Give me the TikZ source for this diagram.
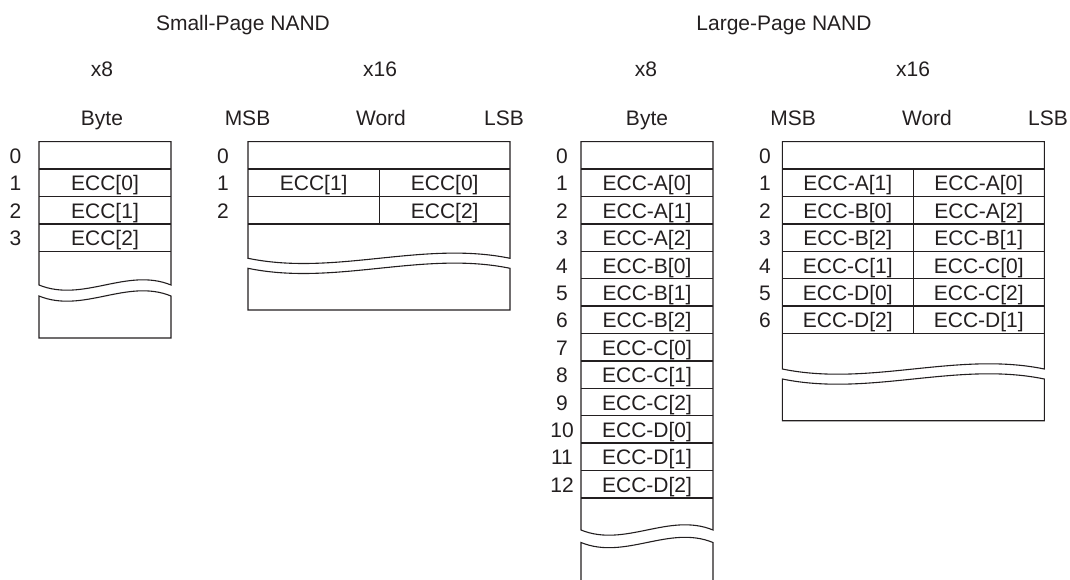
\documentclass[tikz,border=0pt]{standalone}
\usepackage{fontspec}
\setmainfont{Liberation Sans}
\definecolor{ink}{HTML}{231F20}
\tikzset{
  txt/.style={inner sep=0pt, anchor=base, text=ink, font=\fontsize{21}{24}\selectfont},
  boxline/.style={draw=ink, line width=1.1pt, line join=miter},
  rowline/.style={draw=ink, line width=1.5pt},
}
% upper part of a broken box: left, right, top, wave y
\newcommand{\upperpart}[4]{%
  \draw[boxline] (#1,#4) -- (#1,#3) -- (#2,#3) -- (#2,#4)
    .. controls ({#1+2*(#2-#1)/3},{#4-18}) and ({#1+(#2-#1)/3},{#4+18}) .. (#1,#4) -- cycle;}
% lower part of a broken box: left, right, wave y, bottom
\newcommand{\lowerpart}[4]{%
  \draw[boxline] (#1,#3) .. controls ({#1+(#2-#1)/3},{#3+18}) and ({#1+2*(#2-#1)/3},{#3-18}) .. (#2,#3)
    -- (#2,#4) -- (#1,#4) -- cycle;}
\begin{document}
\begin{tikzpicture}[x=1pt,y=-1pt]
\useasboundingbox (0,0) rectangle (1070,580);

% ---------- headers ----------
\node[txt] (hsmall) at (243,31) {Small-Page NAND};
\node[txt] (hlarge) at (784,31) {Large-Page NAND};
\node[txt] (ws8)  at (102,76.5) {x8};
\node[txt] (ws16) at (380,76.5) {x16};
\node[txt] (wl8)  at (646,76.5) {x8};
\node[txt] (wl16) at (913,76.5) {x16};
\node[txt] (bs8)  at (102,126) {Byte};
\node[txt] (msbs) at (247.5,126) {MSB};
\node[txt] (wrds) at (381,126) {Word};
\node[txt] (lsbs) at (504,126) {LSB};
\node[txt] (bl8)  at (647,126) {Byte};
\node[txt] (msbl) at (793,126) {MSB};
\node[txt] (wrdl) at (927,126) {Word};
\node[txt] (lsbl) at (1048,126) {LSB};

% ---------- Small-Page x8 ----------
\upperpart{39}{171}{141.7}{285}
\lowerpart{39}{171}{296}{338}
\foreach \k in {1,...,4}
  \draw[rowline] (39,{141.7+\k*27.4}) -- (171,{141.7+\k*27.4});
\foreach \k in {0,...,3}
  \node[txt] (sa\k) at (15.5,{141.7+\k*27.4+21.8}) {\k};
\foreach \k/\t in {1/ECC[0],2/ECC[1],3/ECC[2]}
  \node[txt] (sac\k) at (105,{141.7+\k*27.4+21.8}) {\t};

% ---------- Small-Page x16 ----------
\upperpart{248}{510}{141.7}{258.3}
\lowerpart{248}{510}{268.3}{310}
\foreach \k in {1,...,3}
  \draw[rowline] (248,{141.7+\k*27.4}) -- (510,{141.7+\k*27.4});
\draw[boxline] (379.3,169.1) -- (379.3,223.9);
\foreach \k in {0,...,2}
  \node[txt] (sb\k) at (223,{141.7+\k*27.4+21.8}) {\k};
\node[txt] (sbl1) at (313.7,{141.7+27.4+21.8}) {ECC[1]};
\node[txt] (sbr1) at (444.7,{141.7+27.4+21.8}) {ECC[0]};
\node[txt] (sbr2) at (444.7,{141.7+2*27.4+21.8}) {ECC[2]};

% ---------- Large-Page x8 ----------
\upperpart{581}{713}{141.7}{530}
\draw[boxline] (581,584) -- (581,542.5)
  .. controls ({581+132/3},{542.5+18}) and ({581+2*132/3},{542.5-18}) .. (713,542.5) -- (713,584);
\foreach \k in {1,...,13}
  \draw[rowline] (581,{141.7+\k*27.4}) -- (713,{141.7+\k*27.4});
\foreach \k in {0,...,12}
  \node[txt] (la\k) at (562,{141.7+\k*27.4+21.8}) {\k};
\foreach \k/\t in {1/ECC-A[0],2/ECC-A[1],3/ECC-A[2],4/ECC-B[0],5/ECC-B[1],6/ECC-B[2],
                   7/ECC-C[0],8/ECC-C[1],9/ECC-C[2],10/ECC-D[0],11/ECC-D[1],12/ECC-D[2]}
  \node[txt] (lac\k) at (647,{141.7+\k*27.4+21.8}) {\t};

% ---------- Large-Page x16 ----------
\upperpart{782.3}{1044.3}{141.7}{369}
\lowerpart{782.3}{1044.3}{379}{420.7}
\foreach \k in {1,...,7}
  \draw[rowline] (782.3,{141.7+\k*27.4}) -- (1044.3,{141.7+\k*27.4});
\draw[boxline] (913.3,169.1) -- (913.3,333.5);
\foreach \k in {0,...,6}
  \node[txt] (lb\k) at (765,{141.7+\k*27.4+21.8}) {\k};
\foreach \k/\l/\r in {1/ECC-A[1]/ECC-A[0],2/ECC-B[0]/ECC-A[2],3/ECC-B[2]/ECC-B[1],
                      4/ECC-C[1]/ECC-C[0],5/ECC-D[0]/ECC-C[2],6/ECC-D[2]/ECC-D[1]}{
  \node[txt] (lbl\k) at (847.8,{141.7+\k*27.4+21.8}) {\l};
  \node[txt] (lbr\k) at (978.8,{141.7+\k*27.4+21.8}) {\r};
}
\end{tikzpicture}
\end{document}
